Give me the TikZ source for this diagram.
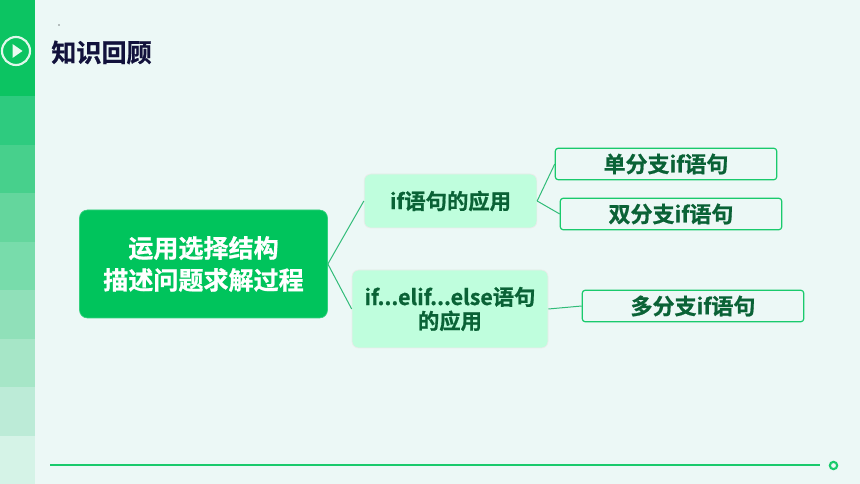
\documentclass[tikz,border=0pt]{standalone}
\usepackage{fontspec}
\setmainfont{Noto Sans CJK SC}[BoldFont={Noto Sans CJK SC Bold},BoldFeatures={FakeBold=0.8}]
\usetikzlibrary{arrows}
\definecolor{pagebg}{HTML}{ECF8F6}
\definecolor{maingreen}{HTML}{00C45C}
\definecolor{palegreen}{HTML}{BFFEDD}
\definecolor{darkgreen}{HTML}{0A6236}
\definecolor{linkgreen}{HTML}{30BC78}
\definecolor{titleink}{HTML}{12123C}
\definecolor{band0}{HTML}{0CC462}
\definecolor{band1}{HTML}{2ECB7F}
\definecolor{band2}{HTML}{47D08C}
\definecolor{band3}{HTML}{64D69D}
\definecolor{band4}{HTML}{78DCAB}
\definecolor{band5}{HTML}{90E0B9}
\definecolor{band6}{HTML}{A6E6C7}
\definecolor{band7}{HTML}{BCEBD7}
\definecolor{band8}{HTML}{D5F3E7}
\tikzset{
  rootbox/.style={draw=maingreen!80!white, fill=maingreen, rounded corners=6pt, text=white, font=\fontsize{18.8pt}{24pt}\selectfont\bfseries, align=center, minimum width=186pt, minimum height=81pt, line width=0.5pt},
  midbox/.style={draw=black!8, fill=palegreen, rounded corners=5pt, text=darkgreen, font=\fontsize{16pt}{18pt}\selectfont\bfseries, align=center, line width=0.5pt},
  leafbox/.style={draw=maingreen!90!white, fill=pagebg, rounded corners=2pt, text=darkgreen, font=\fontsize{16.5pt}{19pt}\selectfont\bfseries, minimum width=166pt, minimum height=23.5pt, line width=0.9pt},
  link/.style={draw=linkgreen, line width=0.75pt}
}
\begin{document}
\begin{tikzpicture}[x=0.75pt,y=-0.75pt]
    \useasboundingbox (0,0) rectangle (860,484);
    \fill[pagebg] (0,0) rectangle (860,484);
    % side strip
    \fill[band0] (0,0) rectangle (35,96);
    \foreach \i/\ytop/\ybot in {1/96/145,2/145/193,3/193/242,4/242/290,5/290/339,6/339/387,7/387/436,8/436/484} {
      \fill[band\i] (0,\ytop) rectangle (35,\ybot);
    }
    \node[circle, draw=white!88!maingreen, line width=1.6pt, minimum size=21pt, inner sep=0pt] (icon) at (16,51) {};
    \fill[white!92!maingreen] (12.5,44) -- (22.5,51) -- (12.5,58) -- cycle;
    \fill[black] (59,25) circle (0.4pt);
    \node[text=titleink, font=\fontsize{18.8pt}{22pt}\selectfont\bfseries, inner sep=0pt] (title) at (101.5,52.5) {知识回顾};

    \node[rootbox] (root) at (203.5,264) {\raisebox{-0.75pt}{运用选择结构}\\\raisebox{-0.75pt}{描述问题求解过程}};
    \node[midbox, minimum width=129.5pt, minimum height=40.5pt] (ifuse) at (450.5,201) {if语句的应用};
    \node[midbox, minimum width=147pt, minimum height=58.5pt] (elifuse) at (450,309) {if...elif...else语句\\的应用};
    \node[leafbox] (single) at (666,164) {\raisebox{-1pt}{单分支if语句}};
    \node[leafbox] (double) at (671,214) {\raisebox{-1pt}{双分支if语句}};
    \node[leafbox] (multi) at (693,306) {多分支if语句};

    \draw[link] (root.east) -- (ifuse.west);
    \draw[link] (root.east) -- (elifuse.west);
    \draw[link] (ifuse.east) -- (single.west);
    \draw[link] (ifuse.east) -- (double.west);
    \draw[link] (elifuse.east) -- (multi.west);

    % bottom rule
    \coordinate (rulestart) at (50,465);
    \node[circle, draw=maingreen!90!white, line width=1.6pt, minimum size=5.5pt, inner sep=0pt] (ruleend) at (833.5,465.5) {};
    \coordinate (rulestop) at (820,465);
    \draw[maingreen!90!white, line width=1.8pt] (rulestart) -- (rulestop);
  \end{tikzpicture}
\end{document}
